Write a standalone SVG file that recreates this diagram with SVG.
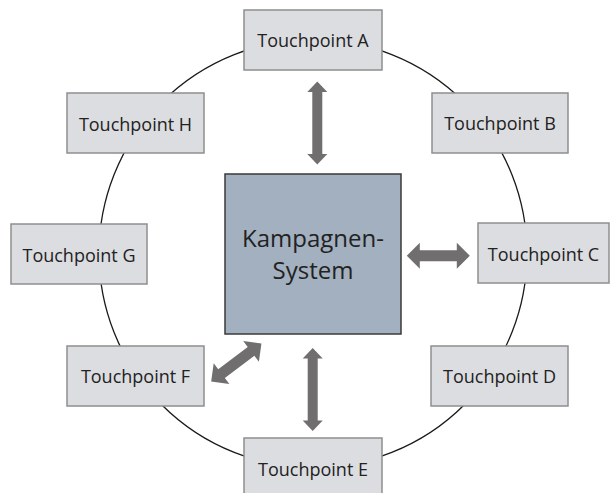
<svg xmlns="http://www.w3.org/2000/svg" width="611" height="493" viewBox="0 0 611 493">
<style>
.tp rect{fill:#dcdde0;stroke:#8e8e8e;stroke-width:1.5}
.tp text{font-family:"Open Sans","Noto Sans",sans-serif;font-size:18px;fill:#222;text-anchor:middle}
.ct text{font-family:"Open Sans","Noto Sans",sans-serif;font-size:24px;fill:#222;text-anchor:middle}
.arr{fill:#716e6f}
</style>
<defs>
<path id="arrH" d="M-31.5,0 L-18.5,-13 L-18.5,-5.5 L18.5,-5.5 L18.5,-13 L31.5,0 L18.5,13 L18.5,5.5 L-18.5,5.5 L-18.5,13 Z"/>
<path id="arrV" d="M0,-41.5 L10,-31 L5,-31 L5,31 L10,31 L0,41.5 L-10,31 L-5,31 L-5,-31 L-10,-31 Z"/>
</defs>
<circle cx="313" cy="253.5" r="214" fill="none" stroke="#1a1a1a" stroke-width="1.3"/>
<g id="connectors">
<use href="#arrV" class="arr" transform="translate(317.3,123)"/>
<use href="#arrV" class="arr" transform="translate(312.7,389.5)"/>
<use href="#arrH" class="arr" transform="translate(438.3,255.7)"/>
<use href="#arrH" class="arr" transform="translate(236.3,362.5) rotate(-37.1)"/>
</g>
<g id="center" class="ct">
<rect x="225" y="174" width="176" height="160" fill="#a2b0c0" stroke="#3a3a3a" stroke-width="1.5"/>
<text x="313" y="247">Kampagnen-</text>
<text x="313" y="279">System</text>
</g>
<g id="tpA" class="tp"><rect x="244" y="10" width="138" height="60"/><text x="313" y="47">Touchpoint A</text></g>
<g id="tpB" class="tp"><rect x="432" y="93" width="136" height="60"/><text x="500" y="130">Touchpoint B</text></g>
<g id="tpC" class="tp"><rect x="478" y="223" width="131" height="60"/><text x="543.5" y="261">Touchpoint C</text></g>
<g id="tpD" class="tp"><rect x="431" y="346" width="137" height="60"/><text x="499.5" y="383">Touchpoint D</text></g>
<g id="tpE" class="tp"><rect x="244" y="438" width="138" height="62"/><text x="313" y="476">Touchpoint E</text></g>
<g id="tpF" class="tp"><rect x="67" y="346" width="137" height="60"/><text x="135.5" y="383">Touchpoint F</text></g>
<g id="tpG" class="tp"><rect x="11" y="224" width="136" height="60"/><text x="79" y="261.5">Touchpoint G</text></g>
<g id="tpH" class="tp"><rect x="67" y="93" width="137" height="60"/><text x="135.5" y="131">Touchpoint H</text></g>
</svg>
